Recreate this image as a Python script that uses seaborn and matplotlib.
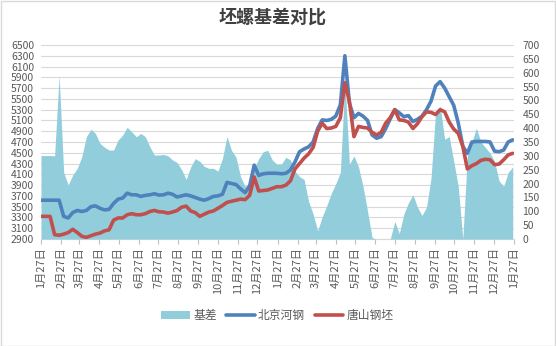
import numpy as np
import pandas as pd
import matplotlib
matplotlib.use("Agg")
import matplotlib.pyplot as plt
import seaborn as sns
from matplotlib.patches import Patch, Rectangle
from matplotlib.lines import Line2D

# ---------------- data ----------------
start_date = "2017-01-27"
end_date = "2019-01-27"
dates = pd.date_range(start_date, periods=105, freq="7D")

beijing = [3620, 3620, 3620, 3620, 3620, 3320, 3290, 3390, 3430, 3410,
           3430, 3500, 3515, 3470, 3440, 3450, 3560, 3640, 3660, 3750,
           3720, 3720, 3690, 3710, 3720, 3740, 3715, 3720, 3750, 3730,
           3680, 3700, 3720, 3700, 3670, 3640, 3620, 3650, 3690, 3700,
           3730, 3950, 3930, 3910, 3830, 3760, 3880, 4270, 4080, 4110,
           4120, 4120, 4120, 4110, 4120, 4180, 4330, 4520, 4570, 4610,
           4700, 4950, 5110, 5100, 5120, 5180, 5390, 6300, 5420, 5150,
           5230, 5180, 5100, 4830, 4770, 4800, 4950, 5130, 5300, 5240,
           5170, 5190, 5080, 5120, 5180, 5300, 5460, 5740, 5820, 5700,
           5540, 5380, 5050, 4620, 4490, 4700, 4710, 4710, 4710, 4700,
           4530, 4520, 4550, 4700, 4740]

tangshan = [3320, 3320, 3320, 2980, 2970, 2990, 3020, 3080, 3020, 2950,
            2930, 2960, 2990, 3010, 3050, 3070, 3250, 3290, 3290, 3350,
            3370, 3350, 3350, 3370, 3410, 3430, 3405, 3400, 3380, 3400,
            3430, 3490, 3510, 3420, 3390, 3320, 3360, 3400, 3420, 3470,
            3520, 3580, 3600, 3620, 3640, 3630, 3710, 4050, 3790, 3800,
            3810, 3840, 3870, 3870, 3900, 3980, 4200, 4300, 4400, 4480,
            4600, 4900, 5050, 4950, 4960, 4990, 5150, 5800, 5450, 4800,
            4990, 4970, 4960, 4880, 4830, 4880, 5050, 5150, 5300, 5110,
            5100, 5070, 4950, 5040, 5170, 5260, 5250, 5210, 5300, 5260,
            5070, 4940, 4860, 4620, 4200, 4260, 4300, 4360, 4380, 4370,
            4280, 4290, 4370, 4460, 4490]

basis = [301, 301, 301, 300, 590, 240, 195, 231, 255, 297,
         369, 396, 381, 345, 331, 321, 321, 357, 375, 403,
         387, 369, 381, 369, 333, 303, 303, 305, 300, 285,
         276, 250, 215, 260, 290, 280, 262, 255, 255, 245,
         290, 370, 320, 295, 225, 190, 205, 255, 290, 315,
         320, 285, 270, 270, 295, 285, 245, 225, 215, 135,
         90, 30, 80, 120, 165, 200, 240, 570, 270, 300,
         260, 190, 100, 5, 0, 0, 0, 0, 63, 20,
         90, 130, 160, 115, 85, 115, 220, 460, 480, 360,
         370, 280, 190, 0, 300, 350, 400, 350, 330, 310,
         280, 210, 190, 240, 260]

title = "坯螺基差对比"
series_names = ["基差", "北京河钢", "唐山钢坯"]

# ---------------- style ----------------
sns.set_theme(style="white")
plt.rcParams['font.family'] = ['Noto Sans CJK SC', 'DejaVu Sans']
plt.rcParams['axes.unicode_minus'] = False

area_color = "#92CDDC"
blue = "#4F81BD"
red = "#C0504D"
text_color = "#595959"
grid_color = "#D9D9D9"

df = pd.DataFrame({"date": dates, "北京河钢": beijing,
                   "唐山钢坯": tangshan, "基差": basis})

W, H = 556, 346
fig = plt.figure(figsize=(W / 100, H / 100), dpi=100)
ax = fig.add_axes([41 / W, 1 - 239 / H, (514 - 41) / W, (239 - 45) / H])
ax2 = ax.twinx()   # area (right axis)
ax3 = ax.twinx()   # lines (left scale)

# area
ax2.fill_between(df["date"], 0, df["基差"], color=area_color, linewidth=0)

# lines
sns.lineplot(data=df, x="date", y="北京河钢", ax=ax3, color=blue,
             linewidth=2.6, legend=False)
sns.lineplot(data=df, x="date", y="唐山钢坯", ax=ax3, color=red,
             linewidth=2.6, legend=False)

# scales
xmin, xmax = pd.Timestamp(start_date), pd.Timestamp(end_date)
ax.set_xlim(xmin, xmax)
ax.set_ylim(2900, 6500)
ax3.set_ylim(2900, 6500)
ax2.set_ylim(0, 700)
ax.set_yticks(np.arange(2900, 6501, 200))
ax2.set_yticks(np.arange(0, 701, 50))
ax3.set_yticks([])
ax3.set_ylabel("")
ax3.set_xlabel("")

tick_dates = pd.date_range(start_date, periods=25, freq=pd.DateOffset(months=1))
ax.set_xticks(tick_dates)
ax.set_xticklabels([f"{d.month}月{d.day}日" for d in tick_dates],
                   rotation=90, fontsize=8, color=text_color)

ax.grid(axis="y", color=grid_color, linewidth=0.8)
ax.grid(axis="x", visible=False)
ax.set_axisbelow(True)
ax2.grid(False)
ax3.grid(False)

for a in (ax, ax2, ax3):
    for s in a.spines.values():
        s.set_visible(False)
ax.spines["bottom"].set_visible(True)
ax.spines["bottom"].set_color(grid_color)
ax.spines["bottom"].set_linewidth(0.8)

ax.tick_params(axis="x", bottom=True, length=3.5, width=0.8,
               color="#BFBFBF", pad=2.5)
ax.tick_params(axis="y", length=0, pad=5, labelsize=7.5, labelcolor=text_color)
ax2.tick_params(axis="y", length=0, pad=6, labelsize=7.5, labelcolor=text_color)
ax.set_xlabel("")
ax.set_ylabel("")
ax2.set_ylabel("")

# title
fig.text(0.49, 0.951, title, ha="center", va="center", fontsize=13,
         fontweight="bold", color="#404040")

# legend
handles = [Patch(facecolor=area_color, edgecolor="none", label=series_names[0]),
           Line2D([], [], color=blue, linewidth=2.6, label=series_names[1]),
           Line2D([], [], color=red, linewidth=2.6, label=series_names[2])]
fig.legend(handles=handles, loc="center", bbox_to_anchor=(0.499, 0.088),
           ncol=3, frameon=False, fontsize=8.5, handlelength=2.4,
           handletextpad=0.3, columnspacing=0.8, labelcolor=text_color)

# outer border
fig.add_artist(Rectangle((0.001, 0.001), 0.997, 0.996, transform=fig.transFigure,
                         fill=False, edgecolor=grid_color, linewidth=1))

fig.savefig("out.png", dpi=100)
